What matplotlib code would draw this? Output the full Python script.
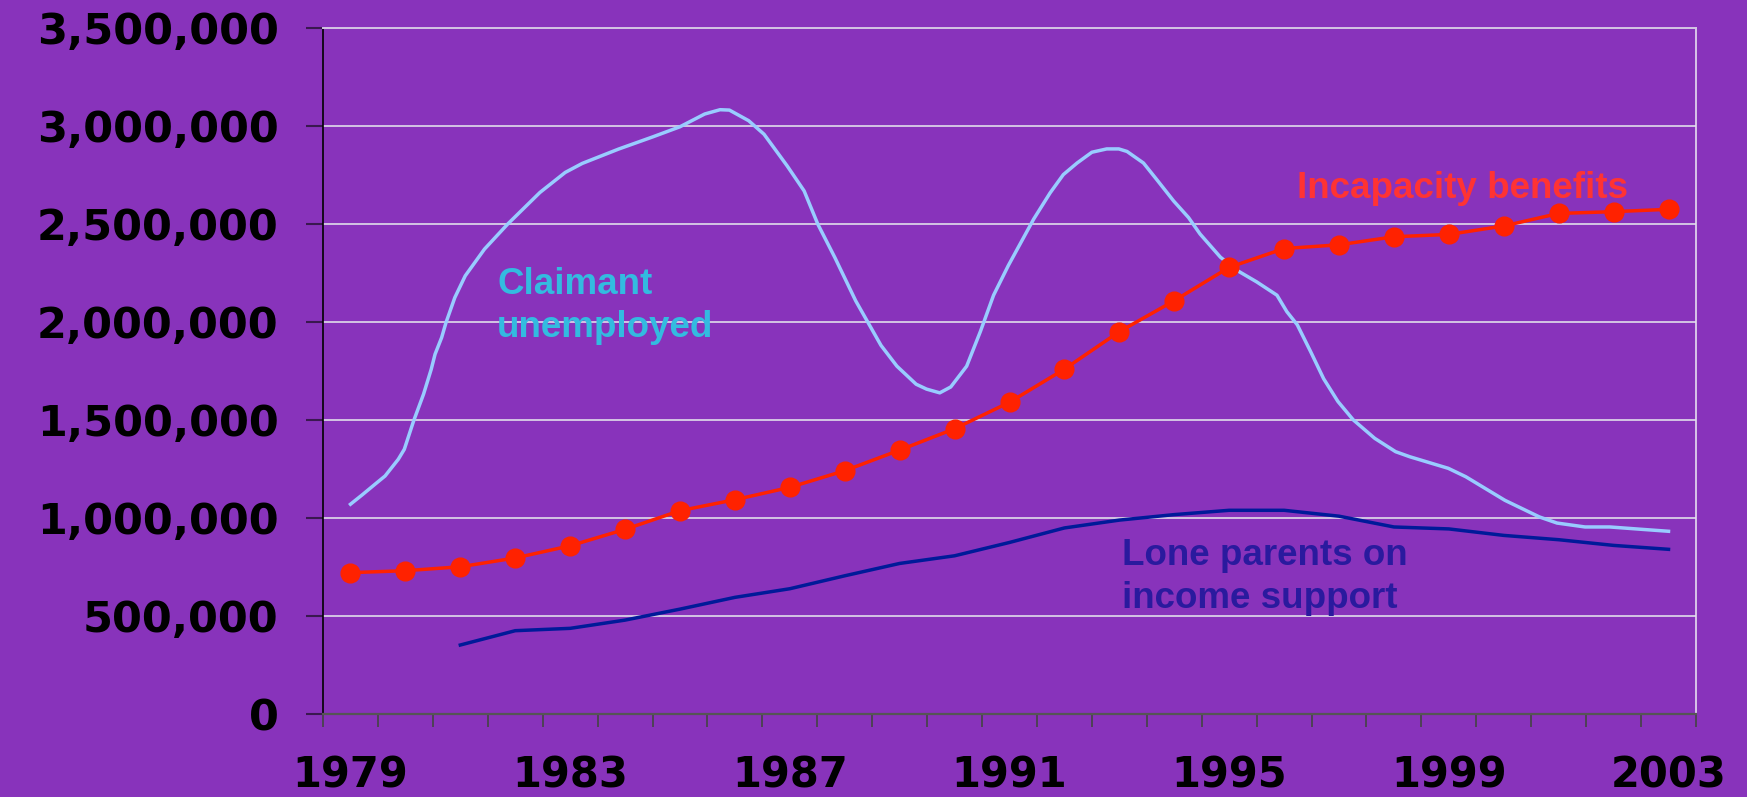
import matplotlib.pyplot as plt
import numpy as np

# Category axis: one slot per year
years = list(range(1979, 2004))
year_labels = ["1979", "1983", "1987", "1991", "1995", "1999", "2003"]

# Incapacity benefits, annual (thousands)
incapacity = [721, 731, 751, 796, 858, 942, 1037, 1093, 1156, 1241, 1346, 1455,
              1590, 1759, 1950, 2108, 2278, 2374, 2393, 2434, 2446, 2489, 2553,
              2562, 2574]

# Lone parents on income support, annual from 1981 (thousands)
lone_years = list(range(1981, 2004))
lone_parents = [352, 425, 437, 479, 535, 595, 639, 705, 768, 807, 875, 949, 989,
                1017, 1039, 1039, 1009, 954, 944, 911, 889, 860, 840]

# Claimant unemployed, sub-annual readings (decimal year, thousands)
claimant_t = [1979.00, 1979.21, 1979.46, 1979.63, 1979.87, 1979.98, 1980.15, 1980.33,
              1980.47, 1980.54, 1980.66, 1980.74, 1980.90, 1981.09, 1981.44, 1981.86,
              1982.45, 1982.91, 1983.22, 1983.88, 1984.51, 1985.00, 1985.45, 1985.73,
              1985.90, 1986.25, 1986.53, 1986.95, 1987.26, 1987.51, 1987.82, 1988.20,
              1988.66, 1988.95, 1989.30, 1989.49, 1989.73, 1989.93, 1990.22, 1990.47,
              1990.71, 1990.98, 1991.44, 1991.74, 1991.98, 1992.23, 1992.50, 1992.77,
              1992.99, 1993.14, 1993.44, 1993.68, 1993.99, 1994.26, 1994.47, 1994.84,
              1995.14, 1995.50, 1995.87, 1996.05, 1996.24, 1996.48, 1996.72, 1996.98,
              1997.26, 1997.65, 1998.03, 1998.29, 1998.99, 1999.31, 2000.02, 2000.65,
              2000.97, 2001.48, 2001.93, 2002.51, 2003.00]
claimant = [1070, 1117, 1175, 1214, 1299, 1350, 1495, 1631,
            1758, 1835, 1920, 1997, 2124, 2235, 2371, 2498,
            2660, 2762, 2808, 2881, 2944, 2995, 3060, 3082,
            3080, 3026, 2957, 2796, 2668, 2498, 2328, 2107,
            1880, 1774, 1682, 1657, 1638, 1668, 1774, 1951,
            2136, 2288, 2524, 2658, 2751, 2810, 2865, 2882,
            2882, 2869, 2810, 2726, 2616, 2532, 2448, 2330,
            2263, 2204, 2136, 2052, 1985, 1850, 1710, 1594,
            1500, 1406, 1338, 1312, 1253, 1210, 1090, 1005,
            974, 954, 954, 942, 932]

bg = "#8833BB"

fig = plt.figure(figsize=(17.47, 7.97), dpi=100, facecolor=bg)
ax = fig.add_axes([0.1849, 0.1041, 0.7859, 0.8611], facecolor=bg)

# Series
ax.plot(claimant_t, np.array(claimant) * 1000, color="#99CCFF", lw=2.5, zorder=3)
ax.plot(lone_years, np.array(lone_parents) * 1000, color="#001A99", lw=2.5, zorder=3)
ax.plot(years, np.array(incapacity) * 1000, color="#FF2200", lw=2.5,
        marker="o", markersize=13.5, zorder=4)

# Labels on the chart
ax.text(1981.67, 2281000, "Claimant\nunemployed", color="#33BBE0", fontsize=26.5,
        fontweight="bold", family="Liberation Sans", va="top", ha="left",
        linespacing=1.3)
ax.text(1996.24, 2771000, "Incapacity benefits", color="#FF3333", fontsize=26.5,
        fontweight="bold", family="Liberation Sans", va="top", ha="left")
ax.text(1993.04, 896000, "Lone parents on\nincome support", color="#2A1A9E",
        fontsize=26.5, fontweight="bold", family="Liberation Sans", va="top",
        ha="left", linespacing=1.3)

# Axes limits and grid
ax.set_xlim(1978.5, 2003.5)
ax.set_ylim(0, 3500000)
ax.set_yticks(np.arange(0, 3500001, 500000))
ax.set_yticklabels([f"{v:,}" for v in range(0, 3500001, 500000)])
ax.yaxis.grid(True, color="#D4C4E4", lw=1.4)
ax.set_axisbelow(True)

# Category axis: labels every 4 years, tick marks between categories
ax.set_xticks([int(y) for y in year_labels])
ax.set_xticklabels(year_labels)
ax.set_xticks(np.arange(1978.5, 2004, 1.0), minor=True)
ax.tick_params(axis="x", which="major", length=0, pad=29)
ax.tick_params(axis="x", which="minor", length=9.5, width=1.2, color="#444444",
               direction="out")
ax.tick_params(axis="y", length=12, width=1.5, color="#3A1850", pad=20)

for lab in ax.get_yticklabels():
    lab.set_fontsize(31)
    lab.set_fontweight("bold")
    lab.set_family("DejaVu Sans")
    lab.set_color("black")
for lab in ax.get_xticklabels():
    lab.set_fontsize(30)
    lab.set_fontweight("bold")
    lab.set_family("DejaVu Sans")
    lab.set_color("black")

ax.spines["left"].set_color("black")
ax.spines["left"].set_linewidth(1.2)
ax.spines["bottom"].set_color("#555555")
ax.spines["bottom"].set_linewidth(1.6)
ax.spines["right"].set_color("#E6DDF0")
ax.spines["right"].set_linewidth(1.2)
ax.spines["top"].set_color("#D4C4E4")
ax.spines["top"].set_linewidth(1.4)

fig.savefig("out.png", dpi=100, facecolor=bg)
